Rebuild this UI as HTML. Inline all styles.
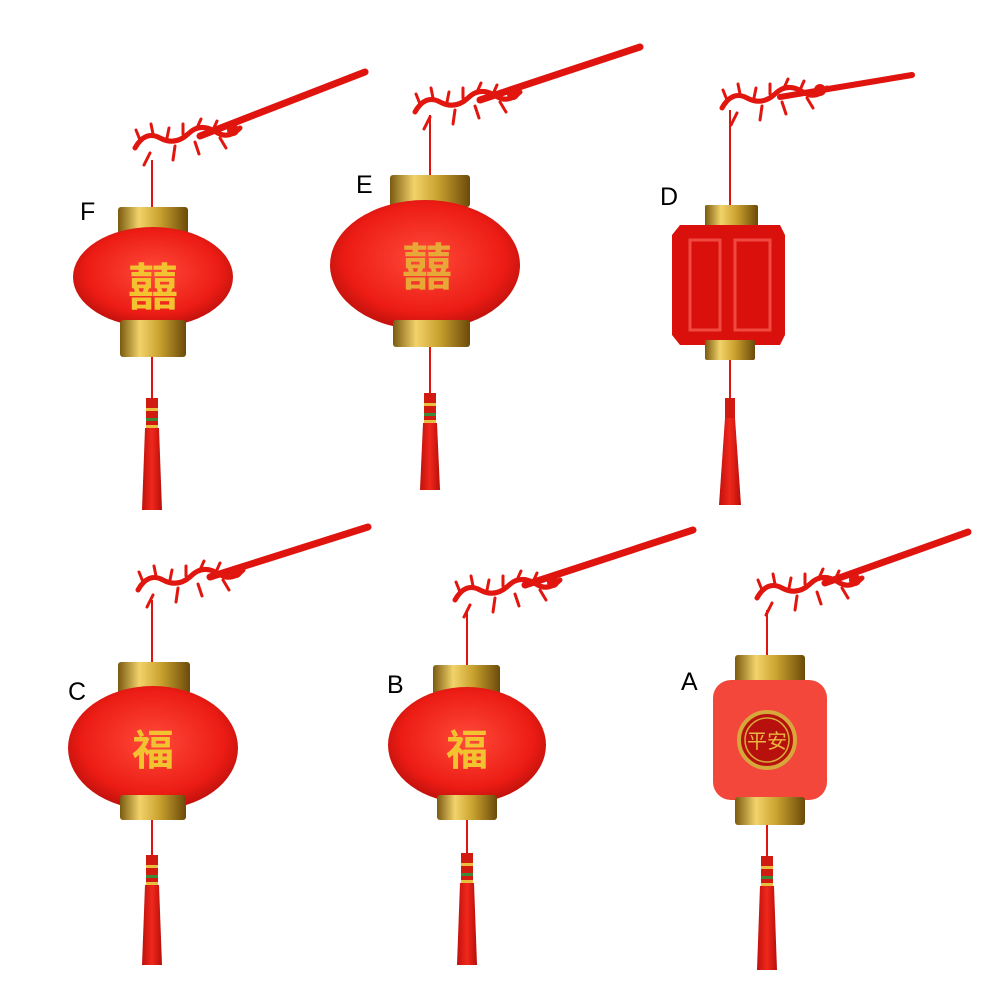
<!DOCTYPE html>
<html><head><meta charset="utf-8"><style>
html,body{margin:0;padding:0;background:#fff;}
svg{display:block;}
text{font-family:"Liberation Sans","Noto Sans CJK SC",sans-serif;}
</style></head><body>
<svg width="1001" height="1001" viewBox="0 0 1001 1001" xmlns="http://www.w3.org/2000/svg">
<defs>
<radialGradient id="red" cx="0.5" cy="0.45" r="0.6">
<stop offset="0" stop-color="#ff4a3a"/><stop offset="0.7" stop-color="#ec1c14"/><stop offset="1" stop-color="#b00d0a"/>
</radialGradient>
<linearGradient id="gold" x1="0" x2="1">
<stop offset="0" stop-color="#7a5a10"/><stop offset="0.3" stop-color="#f2d36a"/><stop offset="0.6" stop-color="#c9a12e"/><stop offset="1" stop-color="#6b4a0a"/>
</linearGradient>
<linearGradient id="tas" x1="0" x2="1">
<stop offset="0" stop-color="#c0100c"/><stop offset="0.5" stop-color="#f0281c"/><stop offset="1" stop-color="#b80e0a"/>
</linearGradient>
<g id="dragon" fill="none" stroke="#e0160f" stroke-width="5" stroke-linecap="round" stroke-linejoin="round">
<path d="M0 20 q10 -18 25 -10 q15 8 28 -4 q12 -12 28 -2 q12 8 24 -4"/>
<path d="M5 12 l-4 -10 M18 6 l-2 -10 M32 10 l2 -10 M48 6 l0 -10 M62 0 l4 -9 M78 2 l4 -9" stroke-width="3"/>
<path d="M15 25 l-6 12 M40 18 l-2 14 M60 14 l4 12 M85 10 l6 10" stroke-width="3"/>
<circle cx="98" cy="2" r="6" fill="#e0160f" stroke="none"/>
</g>
</defs>

<g stroke="#e0140f" stroke-linecap="round" fill="none">
<line x1="200" y1="136" x2="365" y2="72" stroke-width="7"/>
<line x1="480" y1="100" x2="640" y2="47" stroke-width="7"/>
<line x1="780" y1="97" x2="912" y2="75" stroke-width="6"/>
<line x1="210" y1="577" x2="368" y2="527" stroke-width="7"/>
<line x1="525" y1="585" x2="693" y2="530" stroke-width="7"/>
<line x1="825" y1="583" x2="968" y2="532" stroke-width="7"/>
</g>
<use href="#dragon" x="135" y="128"/>
<use href="#dragon" x="415" y="92"/>
<use href="#dragon" x="722" y="88"/>
<use href="#dragon" x="138" y="570"/>
<use href="#dragon" x="455" y="580"/>
<use href="#dragon" x="757" y="578"/>

<g stroke="#e0140f" stroke-width="2">
<line x1="152" y1="160" x2="152" y2="210"/><line x1="152" y1="355" x2="152" y2="400"/>
<line x1="430" y1="115" x2="430" y2="178"/><line x1="430" y1="345" x2="430" y2="395"/>
<line x1="730" y1="110" x2="730" y2="207"/><line x1="730" y1="358" x2="730" y2="400"/>
<line x1="152" y1="600" x2="152" y2="664"/><line x1="152" y1="818" x2="152" y2="858"/>
<line x1="467" y1="610" x2="467" y2="667"/><line x1="467" y1="818" x2="467" y2="855"/>
<line x1="767" y1="610" x2="767" y2="657"/><line x1="767" y1="824" x2="767" y2="858"/>
</g>
<g fill="url(#tas)">
<rect x="146" y="398" width="12" height="30" fill="#d11a10"/><path d="M145 428 h14 l3 82 h-20z"/>
<rect x="424" y="393" width="12" height="30" fill="#d11a10"/><path d="M423 423 h14 l3 67 h-20z"/>
<rect x="725" y="398" width="10" height="20" fill="#d11a10"/><path d="M725 418 h10 l6 87 h-22z"/>
<rect x="146" y="855" width="12" height="30" fill="#d11a10"/><path d="M145 885 h14 l3 80 h-20z"/>
<rect x="461" y="853" width="12" height="30" fill="#d11a10"/><path d="M460 883 h14 l3 82 h-20z"/>
<rect x="761" y="856" width="12" height="30" fill="#d11a10"/><path d="M760 886 h14 l3 84 h-20z"/>
</g>
<g fill="#e8c040">
<rect x="146" y="408" width="12" height="3"/><rect x="146" y="418" width="12" height="3" fill="#3a8a3a"/><rect x="146" y="425" width="12" height="3"/>
<rect x="424" y="403" width="12" height="3"/><rect x="424" y="413" width="12" height="3" fill="#3a8a3a"/><rect x="424" y="420" width="12" height="3"/>
<rect x="146" y="865" width="12" height="3"/><rect x="146" y="875" width="12" height="3" fill="#3a8a3a"/><rect x="146" y="882" width="12" height="3"/>
<rect x="461" y="863" width="12" height="3"/><rect x="461" y="873" width="12" height="3" fill="#3a8a3a"/><rect x="461" y="880" width="12" height="3"/>
<rect x="761" y="866" width="12" height="3"/><rect x="761" y="876" width="12" height="3" fill="#3a8a3a"/><rect x="761" y="883" width="12" height="3"/>
</g>

<!-- F -->
<rect x="118" y="207" width="70" height="30" fill="url(#gold)" rx="3"/>
<ellipse cx="153" cy="277" rx="80" ry="50" fill="url(#red)"/>
<rect x="120" y="320" width="66" height="37" fill="url(#gold)" rx="3"/>
<text x="153" y="305" font-size="50" fill="#f2c230" text-anchor="middle" font-weight="bold">囍</text>
<!-- E -->
<rect x="390" y="175" width="80" height="32" fill="url(#gold)" rx="3"/>
<ellipse cx="425" cy="265" rx="95" ry="65" fill="url(#red)"/>
<rect x="393" y="320" width="77" height="27" fill="url(#gold)" rx="3"/>
<text x="427" y="285" font-size="50" fill="#e8a838" text-anchor="middle" font-weight="bold">囍</text>
<!-- D -->
<rect x="705" y="205" width="53" height="25" fill="url(#gold)" rx="2"/>
<path d="M680 225 h100 l5 10 v100 l-5 10 h-100 l-8 -10 v-100z" fill="#d9100c"/>
<rect x="690" y="240" width="30" height="90" fill="none" stroke="#f04a40" stroke-width="3"/>
<rect x="735" y="240" width="35" height="90" fill="none" stroke="#f04a40" stroke-width="3"/>
<rect x="705" y="340" width="50" height="20" fill="url(#gold)" rx="2"/>
<!-- C -->
<rect x="118" y="662" width="72" height="32" fill="url(#gold)" rx="3"/>
<ellipse cx="153" cy="748" rx="85" ry="62" fill="url(#red)"/>
<rect x="120" y="795" width="66" height="25" fill="url(#gold)" rx="3"/>
<text x="153" y="765" font-size="42" fill="#f2c230" text-anchor="middle" font-weight="bold">福</text>
<!-- B -->
<rect x="433" y="665" width="67" height="30" fill="url(#gold)" rx="3"/>
<ellipse cx="467" cy="745" rx="79" ry="58" fill="url(#red)"/>
<rect x="437" y="795" width="60" height="25" fill="url(#gold)" rx="3"/>
<text x="467" y="765" font-size="42" fill="#f2c230" text-anchor="middle" font-weight="bold">福</text>
<!-- A -->
<rect x="735" y="655" width="70" height="32" fill="url(#gold)" rx="3"/>
<rect x="713" y="680" width="114" height="120" rx="18" fill="#f4473c"/>
<circle cx="767" cy="740" r="28" fill="#b8100c" stroke="#d6a83a" stroke-width="4"/>
<circle cx="767" cy="740" r="22" fill="none" stroke="#d6a83a" stroke-width="1.5"/>
<text x="767" y="748" font-size="20" fill="#e8b840" text-anchor="middle">平安</text>
<rect x="735" y="797" width="70" height="28" fill="url(#gold)" rx="3"/>

<g font-size="25" fill="#000">
<text x="80" y="220">F</text>
<text x="356" y="193">E</text>
<text x="660" y="205">D</text>
<text x="68" y="700">C</text>
<text x="387" y="693">B</text>
<text x="681" y="690">A</text>
</g>
</svg>
</body></html>
